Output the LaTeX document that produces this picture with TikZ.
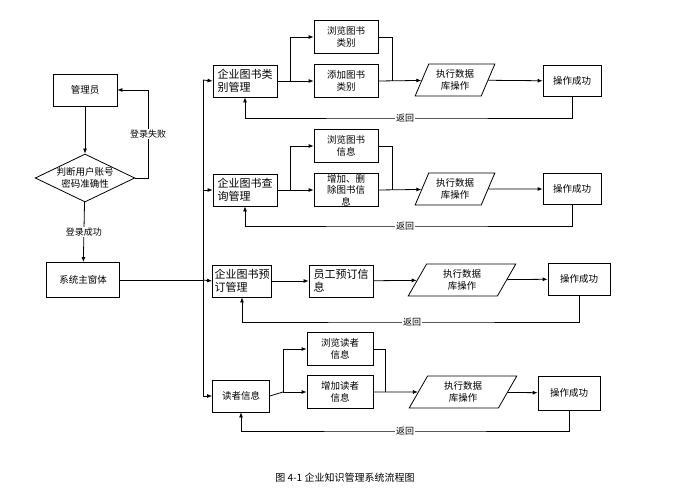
\documentclass[tikz,border=0pt]{standalone}
\usepackage{fontspec}
\setmainfont{Noto Sans CJK SC}
\usetikzlibrary{shapes.geometric,arrows.meta}
\tikzset{
  box/.style={draw,thick,fill=white,align=center,font=\fontsize{9.5}{11.5}\selectfont,inner sep=1pt},
  bigbox/.style={box,align=left,font=\fontsize{11}{13}\selectfont},
  dbop/.style={draw,thick,trapezium,trapezium left angle=65,trapezium right angle=115,trapezium stretches=true,align=center,font=\fontsize{9.5}{11.5}\selectfont,minimum width=80pt,minimum height=32pt,inner sep=1pt},
  arr/.style={-{Latex[length=5pt,width=4pt]},thick},
  lbl/.style={fill=white,font=\fontsize{9}{11}\selectfont,inner sep=1pt}
}
\begin{document}
\begin{tikzpicture}[x=1pt,y=-1pt]
\useasboundingbox (0,0) rectangle (690,500);
\node[box,minimum width=64pt,minimum height=32pt] (admin) at (85,90) {管理员};
\node[draw,thick,diamond,aspect=2.1,minimum width=99pt,minimum height=48pt,inner sep=0pt,align=center,font=\fontsize{9.5}{11.5}\selectfont] (check) at (85,178) {判断用户账号\\密码准确性};
\node[box,minimum width=73pt,minimum height=35pt] (main) at (83,280) {系统主窗体};
\coordinate (fail) at (148,178);
\coordinate (failup) at (148,90);
\draw[arr] (admin) -- (check);
\draw[thick] (check.east) -- (fail) -- node[lbl] {登录失败} (failup);
\draw[arr] (failup) -- (admin.east);
\draw[arr] (check) -- node[lbl] {登录成功} (main);
% main bus
\coordinate (bus) at (203,280);
\coordinate (bustop) at (203,80);
\coordinate (busbot) at (203,396);
\draw[thick] (main.east) -- (bus);
\draw[thick] (bustop) -- (busbot);
% row 1
\node[bigbox,minimum width=64pt,minimum height=32pt] (cat) at (245,81) {企业图书类\\别管理};
\node[box,minimum width=64pt,minimum height=33pt] (catview) at (346,37) {浏览图书\\类别};
\node[box,minimum width=64pt,minimum height=33pt] (catadd) at (346,81) {添加图书\\类别};
\node[dbop] (db1) at (455,80) {执行数据\\库操作};
\node[box,minimum width=58pt,minimum height=31pt] (ok1) at (572,81) {操作成功};
\coordinate (b1) at (290,81);
\coordinate (j1) at (392,81);
\draw[arr] (bustop) -- (cat.west);
\draw[thick] (cat.east) -- (b1);
\draw[arr] (b1) |- (catview.west);
\draw[arr] (b1) -- (catadd.west);
\draw[thick] (catview.east) -| (j1);
\draw[arr] (catadd.east) -- (db1);
\draw[arr] (db1) -- (ok1);
\draw[arr] (ok1.south) |- (405,118) node[lbl] {返回} -| (cat.south);
% row 2
\node[bigbox,minimum width=64pt,minimum height=32pt] (qry) at (245,190) {企业图书查\\询管理};
\node[box,minimum width=64pt,minimum height=33pt] (qryview) at (346,146) {浏览图书\\信息};
\node[box,minimum width=64pt,minimum height=33pt] (qryedit) at (346,190) {增加、删\\除图书信\\息};
\node[dbop] (db2) at (455,189) {执行数据\\库操作};
\node[box,minimum width=58pt,minimum height=31pt] (ok2) at (572,189) {操作成功};
\coordinate (b2) at (290,190);
\coordinate (j2) at (392,190);
\draw[arr] (203,190) -- (qry.west);
\draw[thick] (qry.east) -- (b2);
\draw[arr] (b2) |- (qryview.west);
\draw[arr] (b2) -- (qryedit.west);
\draw[thick] (qryview.east) -| (j2);
\draw[arr] (qryedit.east) -- (db2);
\draw[arr] (db2) -- (ok2);
\draw[arr] (ok2.south) |- (405,226) node[lbl] {返回} -| (qry.south);
% row 3
\node[bigbox,minimum width=59pt,minimum height=32pt] (ord) at (242,281) {企业图书预\\订管理};
\node[bigbox,minimum width=64pt,minimum height=32pt] (ordinfo) at (341,281) {员工预订信\\息};
\node[dbop,minimum width=108pt] (db3) at (462,280) {执行数据\\库操作};
\node[box,minimum width=62pt,minimum height=32pt] (ok3) at (579,279) {操作成功};
\draw[arr] (bus) -- (ord.west);
\draw[arr] (ord) -- (ordinfo);
\draw[arr] (ordinfo) -- (db3);
\draw[arr] (db3) -- (ok3);
\draw[arr] (ok3.south) |- (412,322) node[lbl] {返回} -| (ord.south);
% row 4
\node[box,minimum width=57pt,minimum height=32pt] (rdr) at (241,396) {读者信息};
\node[box,minimum width=66pt,minimum height=33pt] (rdrview) at (340,349) {浏览读者\\信息};
\node[box,minimum width=66pt,minimum height=33pt] (rdradd) at (340,392) {增加读者\\信息};
\node[dbop,minimum width=108pt] (db4) at (463,392) {执行数据\\库操作};
\node[box,minimum width=62pt,minimum height=34pt] (ok4) at (569,393) {操作成功};
\coordinate (b4) at (283,392);
\coordinate (j4) at (385,392);
\draw[arr] (busbot) -- (rdr.west);
\draw[thick] (rdr.east) -- (b4);
\draw[arr] (b4) |- (rdrview.west);
\draw[arr] (b4) -- (rdradd.west);
\draw[thick] (rdrview.east) -| (j4);
\draw[arr] (rdradd.east) -- (db4);
\draw[arr] (db4) -- (ok4);
\draw[arr] (ok4.south) |- (405,431) node[lbl] {返回} -| (rdr.south);
\node[font=\fontsize{10}{12}\selectfont] (cap) at (345,478) {图 4-1 企业知识管理系统流程图};
\end{tikzpicture}
\end{document}
